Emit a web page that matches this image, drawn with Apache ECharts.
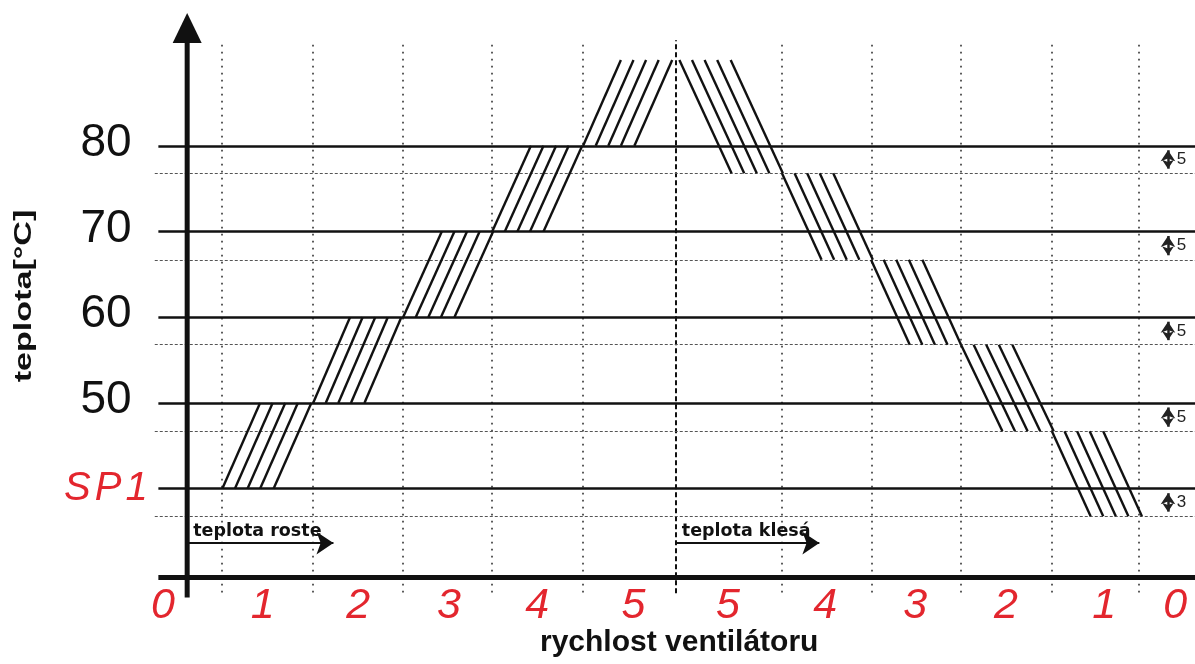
<!DOCTYPE html>
<html><head><meta charset="utf-8">
<script src="https://cdn.jsdelivr.net/npm/echarts@6/dist/echarts.min.js"></script>
<style>html,body{margin:0;padding:0;background:#fff}#c{width:1195px;height:664px}</style>
</head><body><div id="c"></div>
<script>
// ---- data ----
const levels = [40, 50, 60, 70, 80];
const levelLabels = ['SP1', '50', '60', '70', '80'];
const hystY = [36.8, 46.7, 56.8, 66.7, 76.8];
const hystLabels = ['3', '5', '5', '5', '5'];
const speedLabels = ['0', '1', '2', '3', '4', '5', '5', '4', '3', '2', '1', '0'];
const speedLabelX = [-0.27, 0.84, 1.90, 2.91, 3.89, 4.96, 6.01, 7.09, 8.09, 9.10, 10.19, 10.98];
const stepBounds = [0.38, 1.40, 2.40, 3.39, 4.40, 6.61, 7.61, 8.60, 9.61, 10.57];
const turnX = 5.43;
const riseStartX = [0.39, 1.40, 2.40, 3.39, 4.40];
const riseRun = [0.42, 0.41, 0.43, 0.43, 0.42];
const riseFromY = [40, 50, 60, 70, 80];
const riseToY = [50, 60, 70, 80, 90];
const fallStartX = [5.47, 6.61, 7.60, 8.60, 9.61];
const fallRun = [0.58, 0.44, 0.43, 0.46, 0.43];
const fallFromY = [90, 76.8, 66.7, 56.8, 46.7];
const fallToY = [76.8, 66.7, 56.8, 46.7, 36.8];
const hatchOffsets = [0, 0.14, 0.28, 0.42, 0.57];
const trendTexts = ['teplota roste', 'teplota klesá'];
const trendStartX = [0, 5.43];
const trendEndX = [1.72, 7.12];
const trendY = 33.66;

// ---- axis extents ----
const X_MIN = -2.08, X_MAX = 11.2, Y_MIN = 29.7, Y_MAX = 97;
const LINE_START = -0.32, DOT_START = -0.36;
const V_TOP = 92.3, V_BOTTOM = 27.9;
const AXIS_BOTTOM = 27.3, AXIS_TOP = 93.73;
const HYST_ARROW_X = 10.90, HYST_LABEL_X = 11.05;

const W = 1195, H = 664, GRID_BOTTOM = 87;
const pxX = W / (X_MAX - X_MIN), pxY = (H - GRID_BOTTOM) / (Y_MAX - Y_MIN);
const RED = '#e3262e';
const NARROW = "'Liberation Sans Narrow', 'Liberation Sans', Arial, sans-serif";
const SANS = "'Liberation Sans', Arial, sans-serif";

const hatch = [];
riseStartX.forEach((x0, k) => hatchOffsets.forEach(o => hatch.push({coords: [[x0 + o, riseFromY[k]], [x0 + o + riseRun[k], riseToY[k]]]})));
fallStartX.forEach((x0, k) => hatchOffsets.forEach(o => hatch.push({coords: [[x0 + o, fallFromY[k]], [x0 + o + fallRun[k], fallToY[k]]]})));

const hystArrowHalf = 4.5 / pxY;
const trendArrowHalf = 8.5 / pxX;

const nearest = (arr, v) => { let b = 0; arr.forEach((a, i) => { if (Math.abs(a - v) < Math.abs(arr[b] - v)) b = i; }); return b; };

const base = {type: 'lines', coordinateSystem: 'cartesian2d', polyline: false, clip: false, silent: true, symbol: ['none', 'none']};
const textHolder = {type: 'scatter', silent: true, symbolSize: 1, itemStyle: {color: 'transparent', opacity: 1}, emphasis: {disabled: true}};

const option = {
  animation: false,
  backgroundColor: '#fff',
  title: {text: 'rychlost ventilátoru', left: 540, top: 628, padding: 0,
    textStyle: {fontSize: 30, fontWeight: 'bold', fontFamily: SANS, color: '#111'}},
  grid: {left: 0, right: 0, top: 0, bottom: GRID_BOTTOM, containLabel: false, outerBoundsMode: 'none'},
  xAxis: {type: 'value', min: X_MIN, max: X_MAX,
    axisLine: {show: false, onZero: false}, axisTick: {show: false}, splitLine: {show: false},
    axisLabel: {customValues: speedLabelX, hideOverlap: false, margin: 8,
      formatter: v => speedLabels[nearest(speedLabelX, v)],
      color: RED, fontStyle: 'italic', fontSize: 43, fontFamily: NARROW}},
  yAxis: {type: 'value', min: Y_MIN, max: Y_MAX, show: false},
  graphic: [{type: 'text', x: 24, y: 296, rotation: Math.PI / 2, scaleX: 1.42, silent: true,
    style: {text: 'teplota[°C]', font: 'bold 24px ' + SANS, fill: '#111', align: 'center', verticalAlign: 'middle'}}],
  series: [
    Object.assign({}, base, {name: 'grid-v', lineStyle: {color: '#333', width: 1.6, type: [1.6, 5.4], opacity: 1},
      data: stepBounds.map(x => ({coords: [[x, V_BOTTOM], [x, V_TOP]]}))}),
    Object.assign({}, base, {name: 'turn', lineStyle: {color: '#111', width: 2, type: [5, 3], opacity: 1},
      data: [{coords: [[turnX, V_BOTTOM - 0.1], [turnX, V_TOP]]}]}),
    Object.assign({}, base, {name: 'hyst', lineStyle: {color: '#555', width: 1, type: [3, 2], opacity: 1},
      data: hystY.map(v => ({coords: [[DOT_START, v], [X_MAX, v]]}))}),
    Object.assign({}, base, {name: 'levels', lineStyle: {color: '#111', width: 2.5, opacity: 1},
      data: levels.map(v => ({coords: [[LINE_START, v], [X_MAX, v]]}))}),
    Object.assign({}, base, {name: 'hatch', lineStyle: {color: '#111', width: 2.4, opacity: 1}, data: hatch}),
    Object.assign({}, base, {name: 'x-axis', lineStyle: {color: '#111', width: 5, opacity: 1},
      data: [{coords: [[LINE_START, Y_MIN], [X_MAX, Y_MIN]]}]}),
    {type: 'line', name: 'y-axis', clip: false, silent: true, symbol: 'none', showSymbol: true,
      lineStyle: {color: '#111', width: 5}, itemStyle: {color: '#111'},
      data: [[0, AXIS_BOTTOM], {value: [0, AXIS_TOP], symbol: 'triangle', symbolSize: [29, 30]}]},
    Object.assign({}, textHolder, {name: 'level-labels',
      label: {show: true, position: 'left', distance: 39,
        formatter: p => p.dataIndex === 0 ? levelLabels[0].split('').map(c => '{s|' + c + '}').join('') : '{n|' + levelLabels[p.dataIndex] + '}',
        rich: {
          n: {fontSize: 46, fontFamily: SANS, color: '#111', padding: [0, 16, 5, 0]},
          s: {fontSize: 40, fontFamily: NARROW, fontStyle: 'italic', color: RED, padding: [0, 2, 0, 2]}
        }},
      data: levels.map((v, i) => i === 0 ? {value: [0, v], label: {distance: 37}} : [0, v])}),
    Object.assign({}, base, {name: 'hyst-arrows', symbol: ['arrow', 'arrow'], symbolSize: [11, 9],
      lineStyle: {color: '#222', width: 2.5, opacity: 1}, itemStyle: {color: '#222'},
      data: levels.map((v, i) => ({coords: [[HYST_ARROW_X, v - hystArrowHalf], [HYST_ARROW_X, hystY[i] + hystArrowHalf]]}))}),
    Object.assign({}, textHolder, {name: 'hyst-labels',
      label: {show: true, position: 'inside', formatter: p => hystLabels[p.dataIndex], color: '#222', fontSize: 17, fontFamily: SANS},
      data: levels.map((v, i) => [HYST_LABEL_X, (v + hystY[i]) / 2])}),
    Object.assign({}, base, {name: 'trend', symbol: ['none', 'arrow'], symbolSize: [13, 17],
      lineStyle: {color: '#111', width: 2, opacity: 1}, itemStyle: {color: '#111'},
      label: {show: true, position: 'insideStartTop', distance: [6, 3], formatter: p => trendTexts[p.dataIndex],
        color: '#111', fontSize: 17.5, fontWeight: 'bold', fontFamily: "'DejaVu Sans', sans-serif"},
      data: trendStartX.map((x, i) => ({coords: [[x, trendY], [trendEndX[i] - trendArrowHalf, trendY]]}))})
  ]
};
const chart = echarts.init(document.getElementById('c'), null, {renderer: 'canvas'});
chart.setOption(option);
</script></body></html>
